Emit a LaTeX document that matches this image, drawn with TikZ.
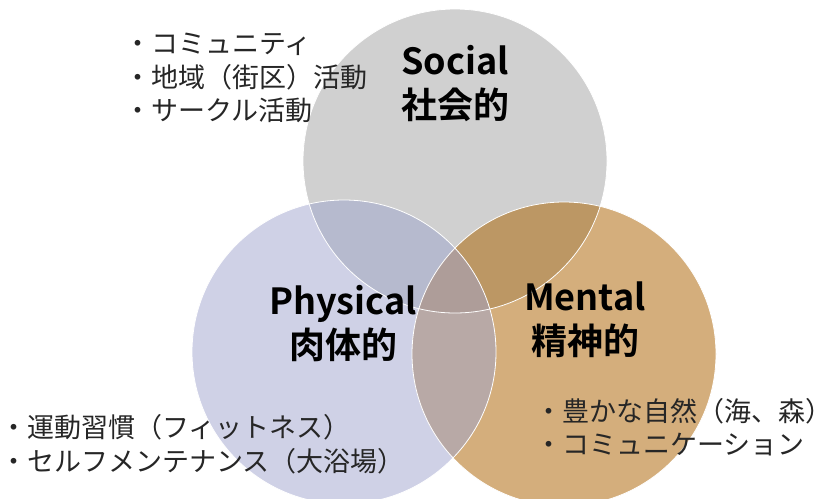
\documentclass[tikz,border=0pt]{standalone}
\usepackage{fontspec}
\setmainfont{Noto Sans CJK JP}[BoldFont={Noto Sans CJK JP Bold}]
\definecolor{socialc}{HTML}{D0D0D0}
\definecolor{physc}{HTML}{CFD1E6}
\definecolor{mentc}{HTML}{D4AE7C}
\definecolor{spc}{HTML}{B6BACE}
\definecolor{smc}{HTML}{BC9764}
\definecolor{pmc}{HTML}{B8A9A6}
\definecolor{spmc}{HTML}{AE9D99}
\definecolor{listc}{HTML}{262626}
\begin{document}
\begin{tikzpicture}[x=1pt,y=-1pt,
  rim/.style={draw=white,line width=0.8pt},
  listtext/.style={anchor=west,inner sep=0pt,align=left,text=listc,font=\fontsize{27}{33.5}\selectfont},
  label/.style={inner sep=0pt,align=center,text=black,font=\fontsize{36}{44}\selectfont\bfseries}]
\path[use as bounding box] (0,0) rectangle (832,498);
\coordinate (S) at (455,161);
\coordinate (P) at (344,352);
\coordinate (M) at (564,354);
\def\R{152pt}
% base circles
\fill[socialc] (S) circle[radius=\R];
\fill[physc] (P) circle[radius=\R];
\fill[mentc] (M) circle[radius=\R];
% pairwise overlaps
\begin{scope}
  \clip (S) circle[radius=\R];
  \fill[spc] (P) circle[radius=\R];
  \fill[smc] (M) circle[radius=\R];
\end{scope}
\begin{scope}
  \clip (P) circle[radius=\R];
  \fill[pmc] (M) circle[radius=\R];
\end{scope}
% triple overlap
\begin{scope}
  \clip (S) circle[radius=\R];
  \clip (P) circle[radius=\R];
  \fill[spmc] (M) circle[radius=\R];
\end{scope}
% white rims
\draw[rim] (S) circle[radius=\R];
\draw[rim] (P) circle[radius=\R];
\draw[rim] (M) circle[radius=\R];
% labels
\node[label] (soc) at (455,84) {Social\\社会的};
\node[label] (phy) at (343,324) {Physical\\肉体的};
\node[label] (men) at (585,320) {Mental\\精神的};
% lists
\node[listtext] (l1) at (124,78) {・コミュニティ\\・地域（街区）活動\\・サークル活動};
\node[listtext] (l2) at (0,444) {・運動習慣（フィットネス）\\・セルフメンテナンス（大浴場）};
\node[listtext] (l3) at (535,427) {・豊かな自然（海、森）\\・コミュニケーション};
\end{tikzpicture}
\end{document}
